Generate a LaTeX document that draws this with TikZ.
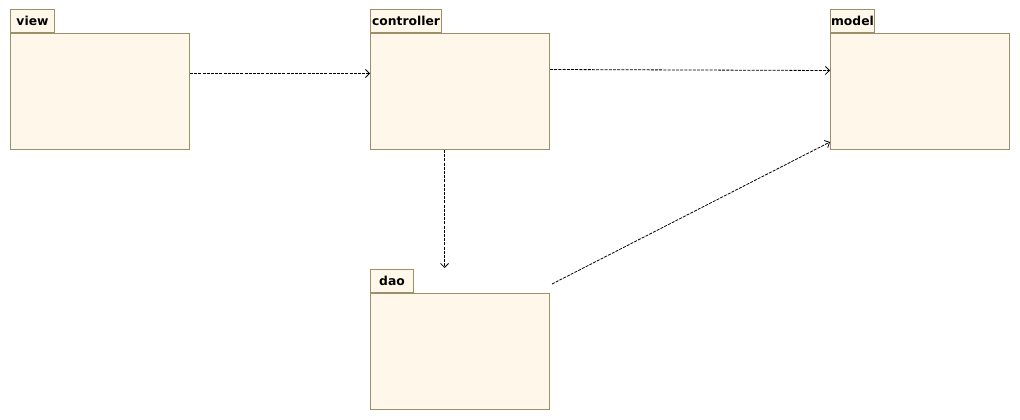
\documentclass[tikz,border=0pt]{standalone}
\usepackage{fontspec}
\setmainfont{DejaVu Sans}
\usetikzlibrary{arrows.meta}
\definecolor{pkgfill}{HTML}{FFF8EA}
\definecolor{pkgline}{HTML}{9C8F6A}
\begin{document}
\begin{tikzpicture}[x=0.75pt,y=-0.75pt,
	pkg/.style={draw=pkgline, fill=pkgfill, line width=0.75pt, anchor=north west, minimum width=134.25pt, minimum height=87pt, inner sep=0pt},
	pkgtab/.style={draw=pkgline, fill=pkgfill, line width=0.75pt, anchor=south west, minimum height=17.25pt, inner sep=0pt, font=\bfseries\fontsize{9.25}{10}\selectfont},
	dep/.style={line width=0.6pt, dash pattern=on 2.25pt off 0.9pt, -{Straight Barb[length=3pt,width=6pt]}}]
	\useasboundingbox (0,0) rectangle (1020,420) ;

	\draw (10,33) node[pkg] (view) {} ;
	\draw (view.north west) node[pkgtab, minimum width=33pt] (viewTab) {view} ;

	\draw (370,33) node[pkg] (controller) {} ;
	\draw (controller.north west) node[pkgtab, minimum width=53.25pt] (controllerTab) {controller} ;

	\draw (830,33) node[pkg] (model) {} ;
	\draw (model.north west) node[pkgtab, minimum width=33pt] (modelTab) {model} ;

	\draw (370,293) node[pkg] (dao) {} ;
	\draw (dao.north west) node[pkgtab, minimum width=32.25pt] (daoTab) {dao} ;

	\draw [dep] ([yshift=13.5pt]view.east) -- ([yshift=13.5pt]controller.west) ;
	\draw [dep] ([yshift=16.5pt]controller.east) -- ([yshift=15.75pt]model.west) ;
	\draw [dep] ([xshift=-11.6pt]controller.south) -- ([xshift=-11.6pt,yshift=18.75pt]dao.north) ;
	\draw [dep] ([xshift=1.5pt,yshift=6.75pt]dao.north east) -- ([yshift=6pt]model.south west) ;

\end{tikzpicture}
\end{document}
